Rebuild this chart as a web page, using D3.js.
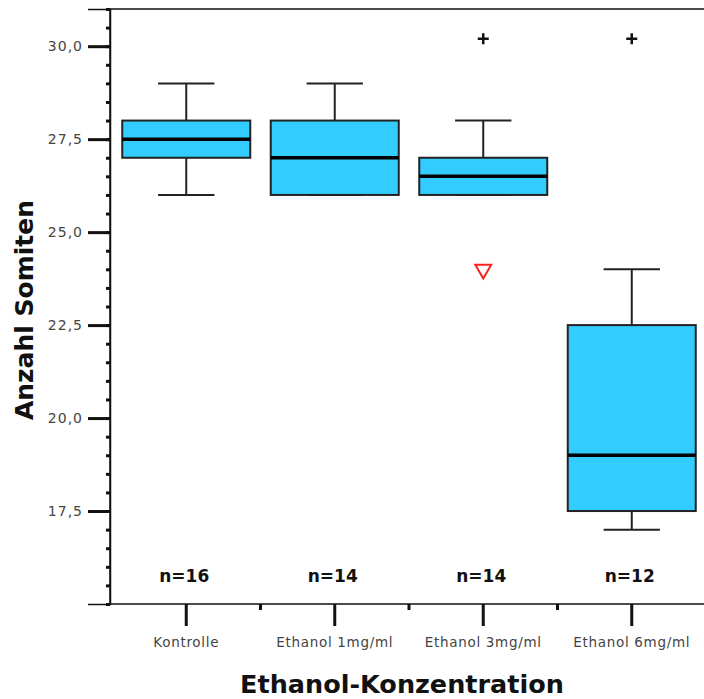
<!DOCTYPE html>
<html>
<head>
<meta charset="utf-8">
<script src="https://cdn.jsdelivr.net/npm/d3@7"></script>
<style>
  html, body { margin: 0; padding: 0; background: #fff; }
  svg { display: block; }
</style>
</head>
<body>
<svg id="chart" width="704" height="699"></svg>
<script>
// Somite counts per ethanol concentration (box plot summaries)
const categories = ["Kontrolle", "Ethanol 1mg/ml", "Ethanol 3mg/ml", "Ethanol 6mg/ml"];
const whiskerLow  = [26, 26, 26, 17];
const q1          = [27, 26, 26, 17.5];
const median      = [27.5, 27, 26.5, 19];
const q3          = [28, 28, 27, 22.5];
const whiskerHigh = [29, 29, 28, 24];
const sampleSize  = [16, 14, 14, 12];
// Extreme values (+) and outliers (triangle)
const extremes = [
  { cat: "Ethanol 3mg/ml", value: 30.2 },
  { cat: "Ethanol 6mg/ml", value: 30.2 }
];
const outliers = [
  { cat: "Ethanol 3mg/ml", value: 24 }
];
const yMajorTicks = [17.5, 20, 22.5, 25, 27.5, 30];
const yDomain = [15, 31];

const svg = d3.select("#chart");
const plotLeft = 110, plotRight = 706, plotTop = 9, plotBottom = 604;

const x = d3.scaleBand()
  .domain(categories)
  .range([112, 706])
  .paddingInner(0.138)
  .paddingOuter(0.069);

const y = d3.scaleLinear().domain(yDomain).range([plotBottom, plotTop]);

const fmt = v => d3.format(".1f")(v).replace(".", ",");

// plot frame
svg.append("rect")
  .attr("x", plotLeft).attr("y", plotTop)
  .attr("width", plotRight - plotLeft + 4).attr("height", plotBottom - plotTop)
  .attr("fill", "none").attr("stroke", "#111").attr("stroke-width", 1.5);

// minor y ticks every 0.5
const yMinor = d3.range(yDomain[0], yDomain[1] + 0.001, 0.5);
svg.append("g")
  .attr("transform", `translate(${plotLeft},0)`)
  .call(d3.axisLeft(y).tickValues(yMinor).tickSize(4).tickFormat(""))
  .call(g => g.select(".domain").remove())
  .call(g => g.selectAll("line").attr("stroke", "#111").attr("stroke-width", 3));

// major y ticks with labels
svg.append("g")
  .attr("transform", `translate(${plotLeft},0)`)
  .call(d3.axisLeft(y).tickValues(yMajorTicks).tickSize(22).tickPadding(5).tickFormat(fmt))
  .call(g => g.select(".domain").attr("stroke", "#111").attr("stroke-width", 1.5))
  .call(g => g.selectAll("line").attr("stroke", "#111").attr("stroke-width", 3))
  .call(g => g.selectAll("text")
    .attr("fill", "#444")
    .style("font-family", "'DejaVu Sans', sans-serif")
    .style("font-size", "14px")
    .style("letter-spacing", "1px"));

// x axis: major ticks at categories
svg.append("g")
  .attr("transform", `translate(0,${plotBottom})`)
  .call(d3.axisBottom(x).tickSize(22).tickPadding(11))
  .call(g => g.select(".domain").remove())
  .call(g => g.selectAll("line").attr("stroke", "#111").attr("stroke-width", 3))
  .call(g => g.selectAll("text")
    .attr("fill", "#444")
    .style("font-family", "'DejaVu Sans', sans-serif")
    .style("font-size", "13.5px")
    .style("letter-spacing", "0.7px"));

// minor x ticks between categories
const gap = (x.step() - x.bandwidth()) / 2;
svg.append("g").selectAll("line")
  .data(categories.slice(0, -1))
  .join("line")
  .attr("x1", d => x(d) + x.bandwidth() + gap)
  .attr("x2", d => x(d) + x.bandwidth() + gap)
  .attr("y1", plotBottom).attr("y2", plotBottom + 6)
  .attr("stroke", "#111").attr("stroke-width", 3);

// boxes
const stats = categories.map((c, i) => ({
  cat: c, lo: whiskerLow[i], q1: q1[i], med: median[i], q3: q3[i], hi: whiskerHigh[i], n: sampleSize[i]
}));
const capHalf = x.bandwidth() * 0.22;
const boxes = svg.append("g").selectAll("g").data(stats).join("g");
const cx = d => x(d.cat) + x.bandwidth() / 2;

boxes.append("line")
  .attr("x1", cx).attr("x2", cx)
  .attr("y1", d => y(d.hi)).attr("y2", d => y(d.q3))
  .attr("stroke", "#222").attr("stroke-width", 2);
boxes.append("line")
  .attr("x1", cx).attr("x2", cx)
  .attr("y1", d => y(d.q1)).attr("y2", d => y(d.lo))
  .attr("stroke", "#222").attr("stroke-width", 2);
boxes.append("line")
  .attr("x1", d => cx(d) - capHalf).attr("x2", d => cx(d) + capHalf)
  .attr("y1", d => y(d.hi)).attr("y2", d => y(d.hi))
  .attr("stroke", "#222").attr("stroke-width", 2);
boxes.append("line")
  .attr("x1", d => cx(d) - capHalf).attr("x2", d => cx(d) + capHalf)
  .attr("y1", d => y(d.lo)).attr("y2", d => y(d.lo))
  .attr("stroke", "#222").attr("stroke-width", 2);
boxes.append("rect")
  .attr("x", d => x(d.cat)).attr("width", x.bandwidth())
  .attr("y", d => y(d.q3)).attr("height", d => y(d.q1) - y(d.q3))
  .attr("fill", "#33CCFF").attr("stroke", "#222").attr("stroke-width", 2);
boxes.append("line")
  .attr("x1", d => x(d.cat)).attr("x2", d => x(d.cat) + x.bandwidth())
  .attr("y1", d => y(d.med)).attr("y2", d => y(d.med))
  .attr("stroke", "#000").attr("stroke-width", 3.5);

// sample sizes
boxes.append("text")
  .attr("x", d => cx(d) - 2).attr("y", 582)
  .attr("text-anchor", "middle")
  .style("font-family", "'DejaVu Sans', sans-serif")
  .style("font-weight", "bold")
  .style("font-size", "17px")
  .attr("fill", "#111")
  .text(d => "n=" + d.n);

// extreme values
const plus = {
  draw(ctx, size) {
    const r = Math.sqrt(size) / 2;
    ctx.moveTo(-r, 0); ctx.lineTo(r, 0);
    ctx.moveTo(0, -r); ctx.lineTo(0, r);
  }
};
svg.append("g").selectAll("path").data(extremes).join("path")
  .attr("transform", d => `translate(${x(d.cat) + x.bandwidth() / 2},${y(d.value)})`)
  .attr("d", d3.symbol().type(plus).size(121))
  .attr("fill", "none").attr("stroke", "#111").attr("stroke-width", 2.5);

// outliers
svg.append("g").selectAll("path").data(outliers).join("path")
  .attr("transform", d => `translate(${x(d.cat) + x.bandwidth() / 2},${y(d.value)}) rotate(180)`)
  .attr("d", d3.symbol().type(d3.symbolTriangle).size(110))
  .attr("fill", "#fff").attr("stroke", "#ff2020").attr("stroke-width", 2);

// axis titles
svg.append("text")
  .attr("transform", `translate(33,310) rotate(-90)`)
  .attr("text-anchor", "middle")
  .style("font-family", "'DejaVu Sans', sans-serif")
  .style("font-weight", "bold")
  .style("font-size", "25px")
  .attr("fill", "#111")
  .text("Anzahl Somiten");

svg.append("text")
  .attr("x", 402).attr("y", 693)
  .attr("text-anchor", "middle")
  .style("font-family", "'DejaVu Sans', sans-serif")
  .style("font-weight", "bold")
  .style("font-size", "25.5px")
  .attr("fill", "#111")
  .text("Ethanol-Konzentration");
</script>
</body>
</html>
